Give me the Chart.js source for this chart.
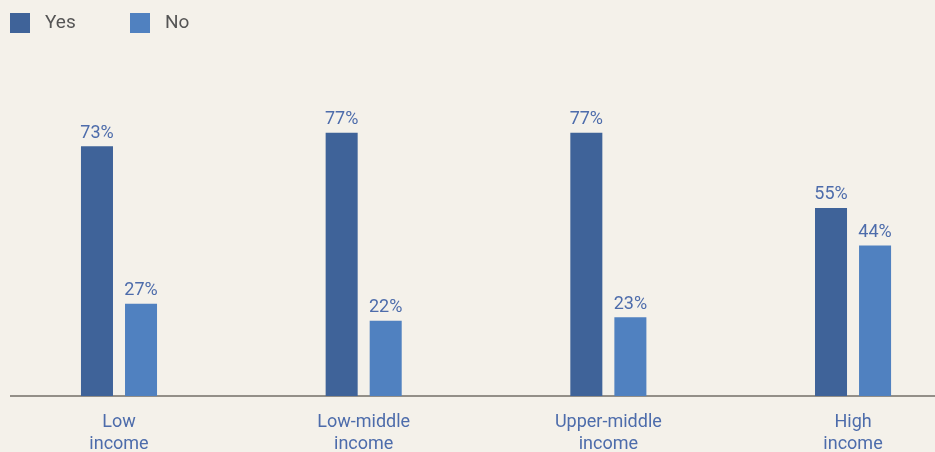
<!DOCTYPE html>
<html>
<head>
<meta charset="utf-8">
<script src="https://cdn.jsdelivr.net/npm/chart.js@4/dist/chart.umd.min.js"></script>
<style>
  html, body { margin: 0; padding: 0; background: #f4f1ea; }
  #wrap { width: 935px; height: 452px; }
</style>
</head>
<body>
<div id="wrap"><canvas id="myChart"></canvas></div>
<script>
const ctx = document.getElementById('myChart');

// data
const categories = [['Low', 'income'], ['Low-middle', 'income'], ['Upper-middle', 'income'], ['High', 'income']];
const yes = [73, 77, 77, 55];
const no = [27, 22, 23, 44];

const labelColor = '#4d6cab';
const fontFam = 'Roboto, "Noto Sans", sans-serif';

// little legend, top left
const legendPlugin = {
  id: 'topLegend',
  afterDraw(chart) {
    const c = chart.ctx;
    c.save();
    c.font = '19px ' + fontFam;
    c.textBaseline = 'middle';
    const xs = [10, 130];
    chart.data.datasets.forEach((ds, i) => {
      c.fillStyle = ds.backgroundColor;
      c.fillRect(xs[i], 13, 20, 20);
      c.fillStyle = '#555555';
      c.fillText(ds.label, xs[i] + 35, 23);
    });
    c.restore();
  }
};

// % values above the bars
const valuePlugin = {
  id: 'barValues',
  afterDatasetsDraw(chart) {
    const c = chart.ctx;
    c.save();
    c.font = '18px ' + fontFam;
    c.fillStyle = labelColor;
    c.textAlign = 'center';
    c.textBaseline = 'bottom';
    chart.data.datasets.forEach((ds, i) => {
      chart.getDatasetMeta(i).data.forEach((bar, j) => {
        c.fillText(ds.data[j].y + '%', bar.x, bar.y - 4);
      });
    });
    c.restore();
  }
};

let cc = new Chart(ctx, {
  type: 'bar',
  data: {
    datasets: [
      {
        label: 'Yes',
        data: yes.map((v, i) => ({ x: i, y: v })),
        backgroundColor: '#3f6399'
      },
      {
        label: 'No',
        data: no.map((v, i) => ({ x: i, y: v })),
        backgroundColor: '#5081c0'
      }
    ]
  },
  options: {
    responsive: true,
    maintainAspectRatio: false,
    animation: false,
    categoryPercentage: 0.36,
    barPercentage: 0.727,
    layout: { padding: { top: 54, left: 11, right: 0, bottom: 0 } },
    plugins: {
      legend: { display: false },
      tooltip: { enabled: false }
    },
    scales: {
      x: {
        type: 'linear',
        offset: false,
        min: -0.4414,
        max: 3.335,
        grid: { display: false, drawTicks: false },
        border: { display: true, color: '#938f88', width: 2 },
        afterBuildTicks: s => { s.ticks = categories.map((c, i) => ({ value: i })); },
        afterFit: s => { s.height = 56; },
        ticks: {
          autoSkip: false,
          maxRotation: 0,
          padding: 16,
          color: labelColor,
          font: { family: fontFam, size: 18, lineHeight: 1.2 },
          callback: v => categories[v]
        }
      },
      y: {
        display: false,
        min: 0,
        max: 100
      }
    }
  },
  plugins: [legendPlugin, valuePlugin]
});
</script>
</body>
</html>
